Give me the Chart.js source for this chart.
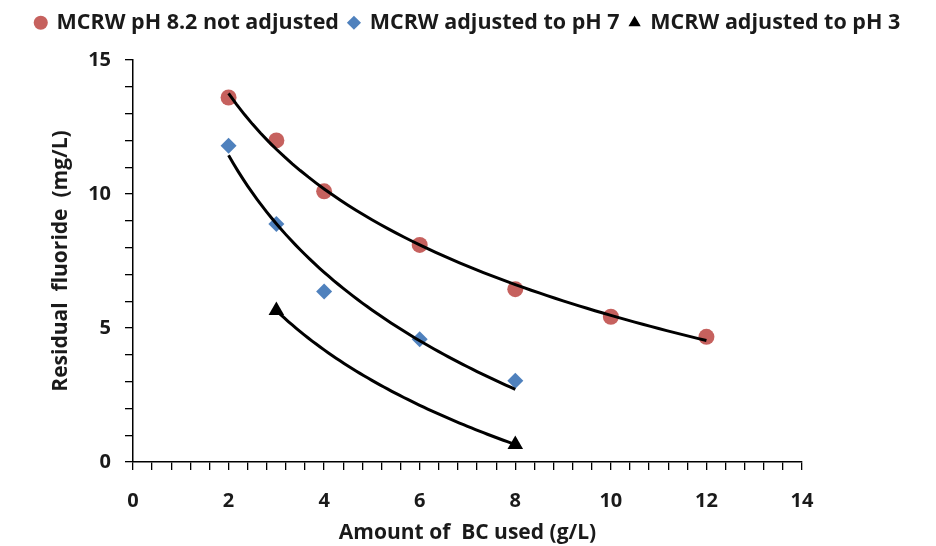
<!DOCTYPE html>
<html>
<head>
<meta charset="utf-8">
<script src="https://cdn.jsdelivr.net/npm/chart.js@4"></script>
<style>
  html, body { margin: 0; padding: 0; background: #fff; }
  #wrap { width: 936px; height: 546px; }
</style>
</head>
<body>
<div id="wrap"><canvas id="fluorideChart" width="936" height="546"></canvas></div>
<script>
// dose of BC (g/L) and residual fluoride (mg/L)
const doseNotAdjusted = [2, 3, 4, 6, 8, 10, 12];
const fluorideNotAdjusted = [13.6, 12.0, 10.1, 8.1, 6.45, 5.42, 4.67];

const dosePH7 = [2, 3, 4, 6, 8];
const fluoridePH7 = [11.8, 8.88, 6.36, 4.58, 3.03];

const dosePH3 = [3, 8];
const fluoridePH3 = [5.65, 0.65];

const seriesLabels = ['MCRW pH 8.2 not adjusted', 'MCRW adjusted to pH 7', 'MCRW adjusted to pH 3'];
const xMajorTicks = [0, 2, 4, 6, 8, 10, 12, 14];
const yMajorTicks = [0, 5, 10, 15];

const FONT = '"Open Sans"';

// logarithmic trendline (y = a + b ln x), least squares like Excel
function logTrend(xs, ys) {
    const lx = xs.map(Math.log);
    const n = xs.length;
    const mx = lx.reduce((s, v) => s + v, 0) / n;
    const my = ys.reduce((s, v) => s + v, 0) / n;
    let sxy = 0, sxx = 0;
    for (let i = 0; i < n; i++) {
        sxy += (lx[i] - mx) * (ys[i] - my);
        sxx += (lx[i] - mx) * (lx[i] - mx);
    }
    const b = sxy / sxx;
    const a = my - b * mx;
    const lo = Math.min(...xs), hi = Math.max(...xs);
    const pts = [];
    for (let i = 0; i <= 60; i++) {
        const x = lo + (hi - lo) * i / 60;
        pts.push({ x: x, y: a + b * Math.log(x) });
    }
    return pts;
}

const toPoints = (xs, ys) => xs.map((x, i) => ({ x: x, y: ys[i] }));

function trendSet(xs, ys) {
    return {
        label: 'trend',
        data: logTrend(xs, ys),
        showLine: true,
        borderColor: '#000',
        borderWidth: 3,
        pointRadius: 0,
        pointHoverRadius: 0,
        fill: false,
        tension: 0
    };
}

// push the plot down below the legend
const legendGap = {
    id: 'legendGap',
    afterInit(chart) {
        const fit = chart.legend.fit;
        chart.legend.fit = function () {
            fit.call(this);
            this.height = 58;
        };
    }
};

const ctx = document.getElementById('fluorideChart');
new Chart(ctx, {
    type: 'scatter',
    plugins: [legendGap],
    data: {
        datasets: [
            trendSet(doseNotAdjusted, fluorideNotAdjusted),
            trendSet(dosePH7, fluoridePH7),
            trendSet(dosePH3, fluoridePH3),
            {
                label: seriesLabels[0],
                data: toPoints(doseNotAdjusted, fluorideNotAdjusted),
                pointStyle: 'circle',
                pointRadius: 8,
                backgroundColor: 'rgba(192, 80, 77, 0.9)',
                borderColor: 'rgba(192, 80, 77, 0.9)',
                borderWidth: 0
            },
            {
                label: seriesLabels[1],
                data: toPoints(dosePH7, fluoridePH7),
                pointStyle: 'rectRot',
                pointRadius: 8,
                backgroundColor: '#4f81bd',
                borderColor: '#4f81bd',
                borderWidth: 0
            },
            {
                label: seriesLabels[2],
                data: toPoints(dosePH3, fluoridePH3),
                pointStyle: 'triangle',
                pointRadius: 9,
                backgroundColor: '#000',
                borderColor: '#000',
                borderWidth: 0
            }
        ]
    },
    options: {
        responsive: false,
        animation: false,
        layout: { padding: { top: 2, left: 0, right: 0, bottom: 0 } },
        plugins: {
            legend: {
                position: 'top',
                labels: {
                    filter: item => item.text !== 'trend',
                    color: '#1a1a1a',
                    font: { family: FONT, size: 21.5, weight: 'bold' },
                    usePointStyle: true,
                    boxWidth: 10,
                    boxHeight: 10,
                    padding: 10
                }
            },
            tooltip: { enabled: false }
        },
        scales: {
            x: {
                type: 'linear',
                min: 0,
                max: 14,
                afterBuildTicks: scale => {
                    const t = [];
                    for (let i = 0; i <= 35; i++) t.push({ value: i * 0.4 });
                    scale.ticks = t;
                },
                afterFit: scale => {
                    scale.height = 84;
                    scale.paddingRight = 134;
                },
                ticks: {
                    autoSkip: false,
                    maxRotation: 0,
                    color: '#1a1a1a',
                    padding: 19,
                    font: { family: FONT, size: 20, weight: 'bold' },
                    callback: v => {
                        const hit = xMajorTicks.find(m => Math.abs(m - v) < 1e-6);
                        return hit === undefined ? '' : String(hit);
                    }
                },
                grid: { drawOnChartArea: false, color: '#000', tickLength: 8, lineWidth: 1.3 },
                border: { color: '#000', width: 1.5 },
                title: {
                    display: true,
                    text: 'Amount of  BC used (g/L)',
                    color: '#1a1a1a',
                    font: { family: FONT, size: 21, weight: 'bold' },
                    padding: { top: 4, bottom: 0 }
                }
            },
            y: {
                type: 'linear',
                min: 0,
                max: 15,
                afterBuildTicks: scale => {
                    const t = [];
                    for (let i = 0; i <= 15; i++) t.push({ value: i });
                    scale.ticks = t;
                },
                afterFit: scale => { scale.width = 133; },
                ticks: {
                    autoSkip: false,
                    color: '#1a1a1a',
                    padding: 14,
                    font: { family: FONT, size: 20, weight: 'bold' },
                    callback: v => yMajorTicks.includes(v) ? String(v) : ''
                },
                grid: { drawOnChartArea: false, color: '#000', tickLength: 8, lineWidth: 1.3 },
                border: { color: '#000', width: 1.5 },
                title: {
                    display: true,
                    text: 'Residual  fluoride  (mg/L)',
                    color: '#1a1a1a',
                    font: { family: FONT, size: 21, weight: 'bold' },
                    padding: { top: 48, bottom: 0 }
                }
            }
        }
    }
});
</script>
</body>
</html>
